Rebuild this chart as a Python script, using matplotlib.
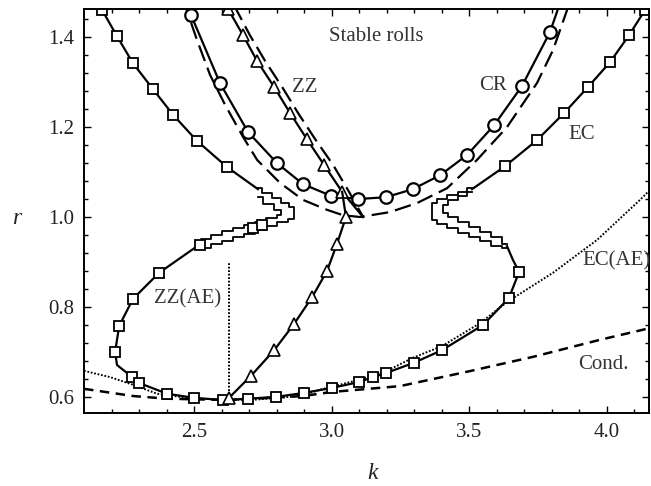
import matplotlib
matplotlib.use("Agg")
import matplotlib.pyplot as plt

plt.rcParams['font.family'] = ['Liberation Serif', 'DejaVu Serif']

# ---------------- data ----------------
# neutral curve (long dashes)
neutral_k = [2.464, 2.471, 2.511, 2.558, 2.613, 2.678, 2.729, 2.812, 2.896, 2.983,
             3.041, 3.103, 3.212, 3.310, 3.419, 3.528, 3.637, 3.746, 3.804, 3.855, 3.866]
neutral_r = [1.482, 1.464, 1.393, 1.316, 1.249, 1.178, 1.127, 1.076, 1.038, 1.016,
             1.004, 1.000, 1.011, 1.031, 1.064, 1.127, 1.200, 1.298, 1.371, 1.460, 1.482]

# second dashed branch next to the zigzag curve
zzdash_k = [2.645, 2.703, 2.758, 2.820, 2.878, 2.940, 3.005, 3.063, 3.114]
zzdash_r = [1.471, 1.404, 1.347, 1.289, 1.231, 1.173, 1.116, 1.056, 1.000]

# cross-roll boundary (circles)
cr_k = [2.471, 2.489, 2.594, 2.696, 2.801, 2.896, 2.998, 3.096, 3.197, 3.295,
        3.394, 3.492, 3.590, 3.691, 3.793, 3.833]
cr_r = [1.478, 1.449, 1.298, 1.189, 1.120, 1.073, 1.047, 1.040, 1.044, 1.062,
        1.093, 1.138, 1.204, 1.291, 1.411, 1.482]

# zigzag boundary (triangles), upper and lower branches
zz_up_k = [2.609, 2.624, 2.678, 2.729, 2.791, 2.849, 2.910, 2.972, 3.038, 3.114]
zz_up_r = [1.478, 1.462, 1.404, 1.347, 1.289, 1.231, 1.173, 1.116, 1.056, 1.000]
zz_lo_k = [3.038, 3.052, 3.019, 2.983, 2.929, 2.863, 2.791, 2.707, 2.627]
zz_lo_r = [1.056, 1.000, 0.940, 0.880, 0.822, 0.762, 0.704, 0.647, 0.598]

# Eckhaus boundary (squares)
ec_left_k = [2.155, 2.166, 2.220, 2.278, 2.351, 2.424, 2.511, 2.620, 2.732]
ec_left_r = [1.480, 1.460, 1.402, 1.342, 1.284, 1.227, 1.169, 1.111, 1.062]
ec_right_k = [3.510, 3.630, 3.746, 3.844, 3.931, 4.011, 4.080, 4.138, 4.160]
ec_right_r = [1.062, 1.113, 1.171, 1.231, 1.289, 1.344, 1.404, 1.460, 1.480]
ec_loop_k = [2.511, 2.373, 2.278, 2.228, 2.213, 2.220, 2.275, 2.300, 2.402, 2.500,
             2.605, 2.696, 2.798, 2.900, 3.001, 3.099, 3.150, 3.197, 3.299, 3.401,
             3.550, 3.644, 3.681, 3.659, 3.637]
ec_loop_r = [0.935, 0.876, 0.818, 0.758, 0.700, 0.671, 0.644, 0.631, 0.607, 0.598,
             0.593, 0.596, 0.600, 0.609, 0.620, 0.633, 0.644, 0.653, 0.676, 0.704,
             0.760, 0.820, 0.878, 0.904, 0.935]

# staircase ribbons of the EC curve
lrib_out_k = [2.732, 2.765, 2.798, 2.831, 2.860, 2.863, 2.820, 2.780, 2.740, 2.700,
              2.660, 2.620, 2.580, 2.540, 2.511]
lrib_out_r = [1.064, 1.053, 1.042, 1.031, 1.022, 0.996, 0.988, 0.980, 0.972, 0.963,
              0.955, 0.947, 0.939, 0.931, 0.935]
lrib_in_k = [2.732, 2.772, 2.812, 2.820, 2.780, 2.740, 2.700, 2.660, 2.620, 2.580,
             2.540, 2.511]
lrib_in_r = [1.044, 1.030, 1.016, 1.004, 0.997, 0.990, 0.982, 0.975, 0.968, 0.960,
             0.952, 0.938]
rrib_out_k = [3.510, 3.475, 3.440, 3.400, 3.365, 3.365, 3.400, 3.440, 3.480, 3.520,
              3.560, 3.600, 3.637]
rrib_out_r = [1.064, 1.056, 1.048, 1.040, 1.031, 0.993, 0.984, 0.975, 0.965, 0.955,
              0.946, 0.936, 0.930]
rrib_in_k = [3.510, 3.475, 3.440, 3.404, 3.404, 3.440, 3.480, 3.520, 3.560, 3.600,
             3.637]
rrib_in_r = [1.056, 1.046, 1.037, 1.027, 1.009, 0.999, 0.988, 0.977, 0.966, 0.955,
             0.940]

ec_mark_k = [2.166, 2.220, 2.278, 2.351, 2.424, 2.511, 2.620, 2.714, 2.747, 2.522,
             2.373, 2.278, 2.228, 2.213, 2.275, 2.300, 2.402, 2.500, 2.605, 2.696,
             2.798, 2.900, 3.001, 3.099, 3.150, 3.197, 3.299, 3.401, 3.550, 3.644,
             3.681, 3.630, 3.746, 3.844, 3.931, 4.011, 4.080, 4.138]
ec_mark_r = [1.460, 1.402, 1.342, 1.284, 1.227, 1.169, 1.111, 0.976, 0.982, 0.938,
             0.876, 0.818, 0.758, 0.700, 0.644, 0.631, 0.607, 0.598, 0.593, 0.596,
             0.600, 0.609, 0.620, 0.633, 0.644, 0.653, 0.676, 0.704, 0.760, 0.820,
             0.878, 1.113, 1.171, 1.231, 1.289, 1.344, 1.404, 1.460]

# amplitude-equation Eckhaus (dotted)
ecae_k = [2.100, 2.195, 2.278, 2.366, 2.500, 2.703, 2.885, 2.958, 3.099, 3.201,
          3.295, 3.401, 3.539, 3.637, 3.804, 3.964, 4.120, 4.156]
ecae_r = [0.658, 0.644, 0.627, 0.607, 0.596, 0.593, 0.602, 0.616, 0.638, 0.658,
          0.687, 0.713, 0.764, 0.811, 0.876, 0.949, 1.038, 1.060]

# conduction onset (short dashes)
cond_k = [2.100, 2.278, 2.402, 2.631, 2.896, 3.001, 3.248, 3.492, 3.731, 3.975, 4.156]
cond_r = [0.618, 0.602, 0.596, 0.593, 0.602, 0.611, 0.624, 0.656, 0.689, 0.727, 0.753]

# amplitude-equation zigzag (vertical dotted)
zzae_k = [2.627, 2.627]
zzae_r = [0.598, 0.898]

# ---------------- figure ----------------
fig = plt.figure(figsize=(6.51, 4.86), dpi=100)
ax = fig.add_axes([0.129, 0.150, 0.868, 0.831])

lw = 1.6
ax.plot(neutral_k, neutral_r, color='k', lw=lw, dashes=(7.5, 3.2))
ax.plot(zzdash_k, zzdash_r, color='k', lw=lw, dashes=(7.5, 3.2))
ax.plot(cond_k, cond_r, color='k', lw=1.8, dashes=(3.8, 2.6))
ax.plot(ecae_k, ecae_r, color='k', lw=1.4, dashes=(0.9, 0.9))
ax.plot(zzae_k, zzae_r, color='k', lw=1.4, dashes=(0.9, 0.9))

# EC curve and its staircase ribbons
for kk, rr in [(ec_left_k, ec_left_r), (ec_right_k, ec_right_r), (ec_loop_k, ec_loop_r)]:
    ax.plot(kk, rr, color='k', lw=lw)
for kk, rr in [(lrib_out_k, lrib_out_r), (lrib_in_k, lrib_in_r),
               (rrib_out_k, rrib_out_r), (rrib_in_k, rrib_in_r)]:
    ax.plot(kk, rr, color='k', lw=1.3, drawstyle='steps-mid')
ax.plot(ec_mark_k, ec_mark_r, ls='none', marker='s', ms=6.8, mfc='white',
        mec='k', mew=1.3)

# CR curve
ax.plot(cr_k, cr_r, color='k', lw=lw, marker='o', ms=9, mfc='white', mec='k',
        mew=1.6, markevery=list(range(1, len(cr_k) - 1)))

# ZZ curve
ax.plot(zz_up_k, zz_up_r, color='k', lw=lw, marker='^', ms=8.5, mfc='white',
        mec='k', mew=1.2, markevery=list(range(1, len(zz_up_k) - 1)))
ax.plot(zz_lo_k, zz_lo_r, color='k', lw=lw, marker='^', ms=8.5, mfc='white',
        mec='k', mew=1.2, markevery=list(range(1, len(zz_lo_k))))

ax.set_xlim(2.1, 4.153)
ax.set_ylim(0.564, 1.462)
ax.set_xticks([2.5, 3.0, 3.5, 4.0])
ax.set_xticks([2.2, 2.3, 2.4, 2.6, 2.7, 2.8, 2.9, 3.1, 3.2, 3.3, 3.4, 3.6, 3.7,
               3.8, 3.9, 4.1], minor=True)
ax.set_yticks([0.6, 0.8, 1.0, 1.2, 1.4])
ax.set_yticks([0.64, 0.68, 0.72, 0.76, 0.84, 0.88, 0.92, 0.96, 1.04, 1.08, 1.12,
               1.16, 1.24, 1.28, 1.32, 1.36, 1.44], minor=True)
ax.tick_params(which='both', direction='in', top=True, right=True, width=1.0,
               labelsize=15, labelcolor='#222222')
ax.tick_params(which='major', length=5, pad=7)
ax.tick_params(which='minor', length=3)
for s in ax.spines.values():
    s.set_linewidth(1.4)

ax.set_xlabel('k', fontsize=17, style='italic', color='#222222')
ax.set_ylabel('r', fontsize=17, style='italic', color='#222222', rotation=0)
ax.xaxis.set_label_coords(0.51, -0.149)
ax.xaxis.label.set_va('center')
ax.yaxis.set_label_coords(-0.119, 0.483)
ax.yaxis.label.set_va('center')

tc = '#333333'
fs = 15
ax.text(3.161, 1.402, 'Stable rolls', fontsize=fs, color=tc, ha='center', va='center')
ax.text(2.903, 1.289, 'ZZ', fontsize=fs, color=tc, ha='center', va='center')
ax.text(3.586, 1.293, 'CR', fontsize=fs, color=tc, ha='center', va='center')
ax.text(3.909, 1.184, 'EC', fontsize=fs, color=tc, ha='center', va='center')
ax.text(4.036, 0.902, 'EC(AE)', fontsize=fs, color=tc, ha='center', va='center')
ax.text(3.986, 0.671, 'Cond.', fontsize=fs, color=tc, ha='center', va='center')
ax.text(2.478, 0.818, 'ZZ(AE)', fontsize=fs, color=tc, ha='center', va='center')

fig.savefig('out.png', dpi=100)
